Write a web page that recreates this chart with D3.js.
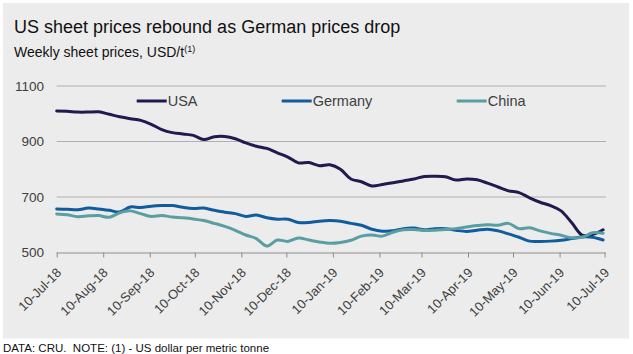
<!DOCTYPE html>
<html>
<head>
<meta charset="utf-8">
<script src="https://cdn.jsdelivr.net/npm/d3@7"></script>
<style>
  html, body { margin: 0; padding: 0; background: #ffffff; }
  svg { display: block; font-family: "Liberation Sans", Arial, sans-serif; }
</style>
</head>
<body>
<div id="chart"></div>
<script>
// Weekly sheet prices, USD/t, one value per week from 10-Jul-18
const startDate = new Date(2018, 6, 10);

const usa = [
    1010, 1009, 1006, 1006, 1007, 998, 989, 982, 976, 962,
    943, 932, 927, 922, 907, 917, 918, 910, 895, 883,
    875, 859, 844, 823, 824, 813, 816, 800, 765, 755,
    740, 745, 751, 758, 765, 774, 775, 773, 761, 765,
    762, 750, 736, 722, 716, 697, 681, 669, 650, 608,
    563, 565, 582
];

const germany = [
    657, 656, 654, 660, 657, 652, 646, 664, 662, 667,
    669, 669, 663, 659, 660, 652, 645, 640, 630, 635,
    625, 620, 620, 608, 608, 613, 615, 613, 605, 598,
    584, 577, 578, 586, 588, 582, 586, 586, 580, 576,
    580, 584, 578, 567, 555, 541, 540, 541, 544, 550,
    556, 555, 545
];

const china = [
    639, 636, 629, 632, 633, 627, 643, 650, 640, 630,
    633, 628, 625, 621, 615, 605, 594, 580, 563, 550,
    523, 545, 540, 552, 545, 538, 533, 536, 544, 559,
    563, 559, 573, 582, 583, 579, 580, 583, 586, 592,
    597, 600, 598, 605, 586, 589, 578, 569, 562, 553,
    555, 571, 569
];

const seriesNames = ["USA", "Germany", "China"];
const seriesColors = ["#1f1b4e", "#105c9f", "#5b9ea2"];
const yTicks = [500, 700, 900, 1100];
const xTickDates = [
    "2018-07-10", "2018-08-10", "2018-09-10", "2018-10-10", "2018-11-10",
    "2018-12-10", "2019-01-10", "2019-02-10", "2019-03-10", "2019-04-10",
    "2019-05-10", "2019-06-10", "2019-07-10"
];

// Specify chart dimensions
const width = 633;
const height = 354;
const marginTop = 86;
const marginRight = 26;
const marginBottom = 101.5;
const marginLeft = 56.7;

const parse = d3.timeParse("%Y-%m-%d");
const fmt = d3.timeFormat("%d-%b-%y");
const tickDates = xTickDates.map(parse);

const dates = usa.map((d, i) => d3.timeDay.offset(startDate, i * 7));
const series = [usa, germany, china].map((values, k) => ({
    name: seriesNames[k],
    color: seriesColors[k],
    values: values.map((v, i) => ({ date: dates[i], value: v }))
}));

const x = d3
    .scaleTime()
    .domain([tickDates[0], tickDates[tickDates.length - 1]])
    .range([marginLeft, width - marginRight - 2.4]);

const y = d3
    .scaleLinear()
    .domain([500, 1100])
    .range([height - marginBottom, marginTop]);

const svg = d3
    .select("#chart")
    .append("svg")
    .attr("width", width)
    .attr("height", height)
    .attr("viewBox", `0 0 ${width} ${height}`);

// Grey panel behind everything
svg.append("rect")
    .attr("x", 3)
    .attr("y", 3)
    .attr("width", 626)
    .attr("height", 335.5)
    .attr("fill", "#ececec");

// Titles
svg.append("text")
    .attr("x", 14)
    .attr("y", 33)
    .attr("font-size", 18)
    .attr("fill", "#111")
    .text("US sheet prices rebound as German prices drop");

const sub = svg.append("text")
    .attr("x", 14)
    .attr("y", 56.5)
    .attr("font-size", 14)
    .attr("fill", "#111");
sub.append("tspan").text("Weekly sheet prices, USD/t");
sub.append("tspan").attr("font-size", 9).attr("dy", -5).text("(1)");

// Horizontal gridlines + y labels
const grid = svg.append("g")
    .selectAll("g")
    .data(yTicks)
    .join("g")
    .attr("transform", (d) => `translate(0,${y(d)})`);

grid.filter((d) => d !== 500)
    .append("line")
    .attr("x1", marginLeft)
    .attr("x2", x.range()[1] + 1.5)
    .attr("stroke", "#b0b0b0")
    .attr("stroke-width", 1);

grid.append("text")
    .attr("x", 44)
    .attr("dy", "0.35em")
    .attr("text-anchor", "end")
    .attr("font-size", 13.5)
    .attr("fill", "#404040")
    .text((d) => d);

// X axis
const xAxis = svg.append("g")
    .attr("transform", `translate(0,${y(500)})`)
    .call(
        d3.axisBottom(x)
            .tickValues(tickDates)
            .tickSize(5)
            .tickSizeOuter(0)
            .tickFormat(fmt)
    );

xAxis.select(".domain")
    .attr("stroke", "#8c8c8c")
    .attr("d", `M${marginLeft},0.5H${x.range()[1] + 1}`);
xAxis.selectAll(".tick line").attr("stroke", "#8c8c8c");
xAxis.selectAll(".tick text")
    .attr("font-family", "Liberation Sans, Arial, sans-serif")
    .attr("font-size", 13)
    .attr("fill", "#404040")
    .attr("text-anchor", "end")
    .attr("dy", null)
    .attr("y", null)
    .attr("transform", "translate(5,21) rotate(-45)");

// Lines
const line = d3
    .line()
    .curve(d3.curveCatmullRom.alpha(0.5))
    .x((d) => x(d.date))
    .y((d) => y(d.value));

svg.append("g")
    .attr("fill", "none")
    .attr("stroke-width", 3)
    .attr("stroke-linejoin", "round")
    .attr("stroke-linecap", "round")
    .selectAll("path")
    .data(series)
    .join("path")
    .attr("stroke", (d) => d.color)
    .attr("d", (d) => line(d.values));

// Legend
const legendX = [136.7, 281.7, 456.7];
const legend = svg.append("g")
    .selectAll("g")
    .data(series)
    .join("g")
    .attr("transform", (d, i) => `translate(${legendX[i]},101)`);

legend.append("line")
    .attr("x1", 0)
    .attr("x2", 30)
    .attr("stroke", (d) => d.color)
    .attr("stroke-width", 3);

legend.append("text")
    .attr("x", 31)
    .attr("dy", "0.36em")
    .attr("font-size", 14.5)
    .attr("fill", "#404040")
    .text((d) => d.name);

// Footnote
svg.append("text")
    .attr("x", 3)
    .attr("y", 351.5)
    .attr("font-size", 11.5)
    .attr("fill", "#111")
    .style("white-space", "pre")
    .text("DATA: CRU.  NOTE: (1) - US dollar per metric tonne");
</script>
</body>
</html>
